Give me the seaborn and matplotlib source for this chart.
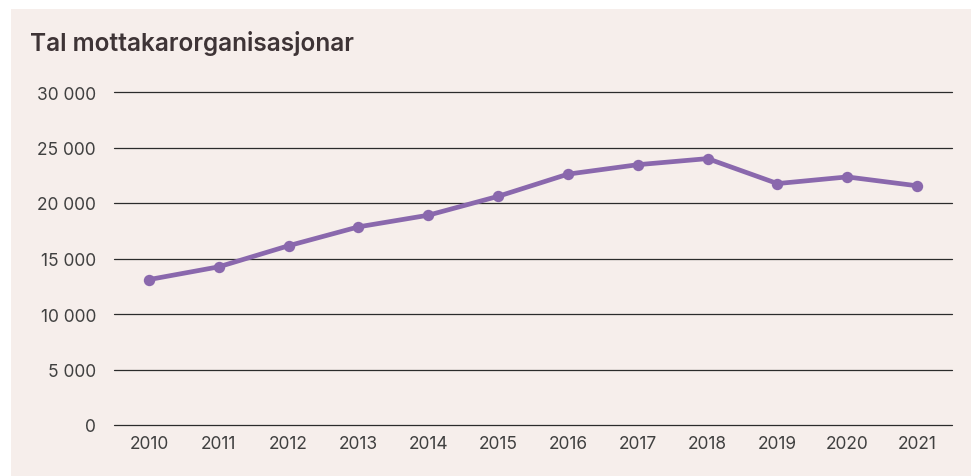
import matplotlib.pyplot as plt
import matplotlib.ticker as mticker
import seaborn as sns
from matplotlib.patches import Rectangle

years = [2010, 2011, 2012, 2013, 2014, 2015, 2016, 2017, 2018, 2019, 2020, 2021]
organisations = [13100, 14250, 16150, 17850, 18900, 20600, 22600, 23450, 24000, 21750, 22350, 21550]
y_ticks = [0, 5000, 10000, 15000, 20000, 25000, 30000]
title = "Tal mottakarorganisasjonar"

panel_bg = "#F6EEEB"
line_color = "#8A68AD"
text_color = "#3E3436"

sns.set_style("white")
plt.rcParams["font.family"] = ["Inter", "DejaVu Sans"]

fig = plt.figure(figsize=(9.71, 4.77), dpi=100)
fig.patch.set_facecolor("white")
fig.add_artist(Rectangle((11 / 971, 0), 1, 467 / 477, transform=fig.transFigure,
                         facecolor=panel_bg, edgecolor="none", zorder=0))

ax = fig.add_axes([114 / 971, 1 - 426 / 477, (952 - 114) / 971, (426 - 93) / 477])
ax.set_facecolor("none")
ax.set_zorder(2)

sns.lineplot(x=years, y=organisations, ax=ax, color=line_color, linewidth=3.4,
             marker="o", markersize=8.2, markeredgewidth=0, zorder=3)

ax.set_xlim(2009.5, 2021.5)
ax.set_ylim(0, 30000)
ax.set_yticks(y_ticks)
ax.set_xticks(years)
ax.yaxis.set_major_formatter(mticker.FuncFormatter(lambda v, p: f"{int(v):,}".replace(",", " ")))

ax.grid(axis="y", color="#2b2b2b", linewidth=0.9)
ax.grid(axis="x", visible=False)
for gl in ax.get_ygridlines():
    gl.set_clip_on(False)
ax.set_axisbelow(True)
for s in ax.spines.values():
    s.set_visible(False)

ax.tick_params(axis="both", length=0, labelsize=12.5, labelcolor="#404040")
ax.tick_params(axis="y", pad=13)
ax.tick_params(axis="x", pad=7)

fig.text(30 / 971, 1 - 43 / 477, title, fontsize=17.6, fontweight="semibold",
         color=text_color, va="center", ha="left", zorder=3)

fig.savefig("out.png", dpi=100, facecolor=fig.get_facecolor())
